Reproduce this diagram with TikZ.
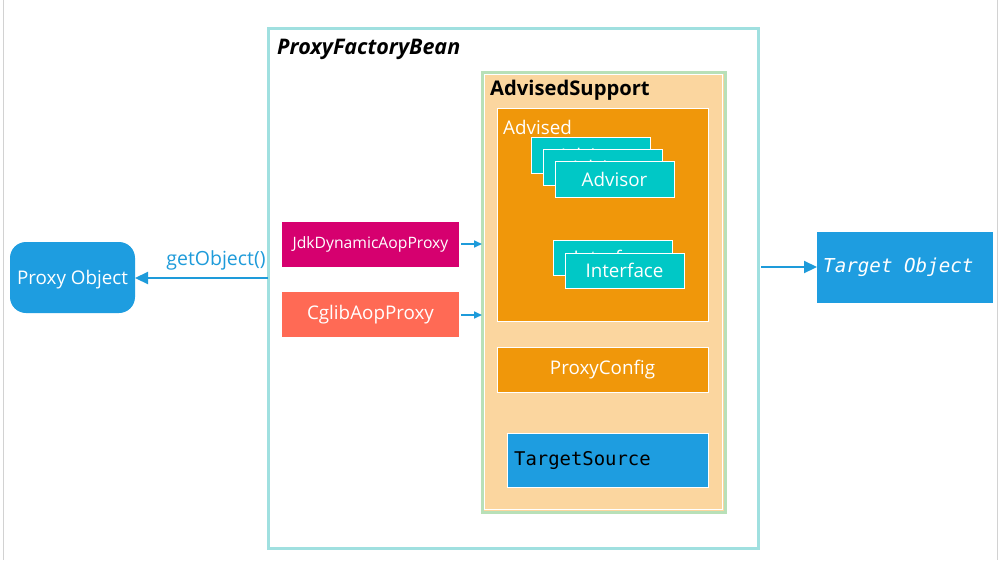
\documentclass[tikz,border=0pt]{standalone}
\usepackage{fontspec}
\setmainfont{Open Sans}
\newfontfamily\monofont{DejaVu Sans Mono}
\usetikzlibrary{arrows.meta,positioning}
\definecolor{frameteal}{HTML}{A0E0E0}
\definecolor{asfill}{HTML}{FBD69F}
\definecolor{asborder}{HTML}{B8E0B8}
\definecolor{orangebox}{HTML}{F0970A}
\definecolor{cyanbox}{HTML}{00C8C6}
\definecolor{magbox}{HTML}{D6006F}
\definecolor{coralbox}{HTML}{FF6A55}
\definecolor{bluebox}{HTML}{1E9DE0}
\definecolor{arrowblue}{HTML}{1E9BDA}
\tikzset{
  px/.style={x=1pt,y=-1pt},
  rbox/.style={anchor=north west,inner sep=0pt,outer sep=0pt},
  whiteedge/.style={draw=white,line width=1pt},
  lbl/.style={inner sep=0pt,font=\fontsize{18.8}{22}\selectfont},
  bigarrow/.style={draw=arrowblue,line width=2.2pt,-{Triangle[length=13pt,width=12pt]}},
  smallarrow/.style={draw=arrowblue,line width=1.6pt,-{Triangle[length=8pt,width=7pt]}},
}
\begin{document}
\begin{tikzpicture}[px]
\useasboundingbox (0,0) rectangle (999,560);
\fill[white] (0,0) rectangle (999,560);
\draw[gray!35,line width=1.5pt] (3.5,0) -- (3.5,560);
\draw[gray!35,line width=1.5pt] (997.5,0) -- (997.5,560);

% ProxyFactoryBean frame
\node[rbox,draw=frameteal,line width=3pt,fill=white,minimum width=490pt,minimum height=520pt] (pfb) at (268,28) {};
\node[anchor=west,inner sep=0pt,font=\fontsize{21.5}{24}\selectfont\bfseries\itshape] (pfbt) at (277,49) {ProxyFactoryBean};

% AdvisedSupport
\node[rbox,draw=asborder,line width=3pt,fill=asfill,minimum width=243pt,minimum height=440pt] (as) at (482,72) {};
\draw[white,line width=0.8pt] (484.5,74.5) rectangle (722.5,509.5);
\node[anchor=west,inner sep=0pt,font=\fontsize{20.2}{22}\selectfont\bfseries] (ast) at (490,90) {AdvisedSupport};

% Advised
\node[rbox,whiteedge,fill=orangebox,minimum width=211pt,minimum height=213pt] (adv) at (497,108) {};
\node[anchor=west,lbl,text=white] (advt) at (503,127) {Advised};

% Advisors
\node[rbox,whiteedge,fill=cyanbox,minimum width=119pt,minimum height=36pt] (ad1) at (531,137) {};
\node[lbl,text=white] (ad1t) at (ad1.center) {Advisor};
\node[rbox,whiteedge,fill=cyanbox,minimum width=119pt,minimum height=36pt] (ad2) at (543,149) {};
\node[lbl,text=white] (ad2t) at (ad2.center) {Advisor};
\node[rbox,whiteedge,fill=cyanbox,minimum width=119pt,minimum height=36pt] (ad3) at (555,161) {};
\node[lbl,text=white] (ad3t) at (ad3.center) {Advisor};

% Interfaces
\node[rbox,whiteedge,fill=cyanbox,minimum width=119pt,minimum height=35pt] (if1) at (553,240) {};
\node[lbl,text=white] (if1t) at (if1.center) {Interface};
\node[rbox,whiteedge,fill=cyanbox,minimum width=119pt,minimum height=35pt] (if2) at (565,253) {};
\node[lbl,text=white] (if2t) at (if2.center) {Interface};

% ProxyConfig
\node[rbox,whiteedge,fill=orangebox,minimum width=211pt,minimum height=45pt] (pc) at (497,347) {};
\node[lbl,text=white] (pct) at (pc.center) {ProxyConfig};

% TargetSource
\node[rbox,whiteedge,fill=bluebox,minimum width=201pt,minimum height=54pt] (ts) at (507,433) {};
\node[anchor=west,inner sep=0pt,font=\monofont\fontsize{18.9}{22}\selectfont,text=black] (tst) at (514,461) {TargetSource};

% Proxies
\node[rbox,fill=magbox,minimum width=177pt,minimum height=45pt] (jdk) at (282,222) {};
\node[inner sep=0pt,font=\fontsize{15.7}{18}\selectfont,text=white] (jdkt) at (jdk.center) {JdkDynamicAopProxy};
\node[rbox,fill=coralbox,minimum width=177pt,minimum height=45pt] (cg) at (282,292) {};
\node[lbl,text=white] (cgt) at (cg.center) {CglibAopProxy};

\coordinate (jdkend) at (482,244);
\coordinate (cgend) at (482,315);
\draw[smallarrow] (jdk.east |- jdkend) ++(2,0) -- (jdkend);
\draw[smallarrow] (cg.east |- cgend) ++(2,0) -- (cgend);

% Proxy Object
\node[rbox,fill=bluebox,rounded corners=16pt,minimum width=125pt,minimum height=71pt] (po) at (10,242) {};
\node[lbl,text=white] (pot) at ([yshift=-2pt]po.center) {Proxy Object};

\coordinate (pfbleft) at (268,278);
\draw[bigarrow] (pfbleft) -- (po.east |- pfbleft);
\node[anchor=south,inner sep=0pt,font=\fontsize{19.5}{22}\selectfont,text=arrowblue] (getobj) at (216,270) {getObject()};

% Target Object
\node[rbox,fill=bluebox,minimum width=176pt,minimum height=71pt] (to) at (817,232) {};
\node[anchor=west,inner sep=0pt,font=\monofont\itshape\fontsize{19.2}{22}\selectfont,text=white] (tot) at (823,267) {Target Object};
\coordinate (pfbright) at (761,267);
\draw[bigarrow] (pfbright) -- (to.west |- pfbright);
\end{tikzpicture}
\end{document}
